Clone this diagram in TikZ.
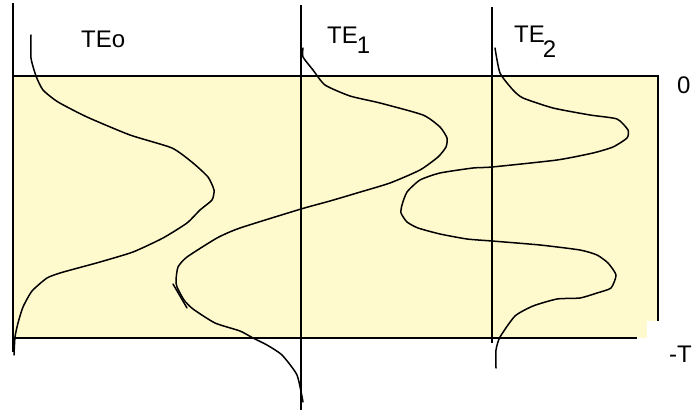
\documentclass[tikz,border=0pt]{standalone}
\usepackage{fontspec}
\setmainfont{Liberation Sans}
\definecolor{paleyellow}{RGB}{255,249,206}
\begin{document}
\begin{tikzpicture}[x=1pt,y=-1pt,
  curve/.style={line width=1.5pt,line join=round,line cap=round},
  axisline/.style={line width=1.2pt},
  label/.style={font=\fontsize{24}{28}\selectfont,inner sep=0pt,anchor=base west}]
\useasboundingbox (0,0) rectangle (693,412);
% background fill
\fill[paleyellow] (13,76) rectangle (658,338);
\fill[white] (647,321) rectangle (660,340);
% frame
\draw[line width=1.2pt] (13,76) -- (658,76);
\draw[line width=2pt] (658,75.4) -- (658,321);
\draw[line width=2.4pt] (13,338) -- (637,338);
\draw[line width=2pt] (13,3) -- (13,352);
% mode axes
\draw[axisline] (301,5) -- (301,410);
\draw[axisline] (492,7) -- (492,343);
% mode profiles
\draw[curve] plot[smooth,tension=0.35] coordinates {
 (31,35) (31,58) (36,76) (43,90) (58,102) (87,117) (130,135) (172,148)
 (193,163) (208,177) (214,190) (212,200) (200,210) (187,223) (163,238)
 (133,252) (100,262) (78,268) (60,273) (47,278) (32,291) (23,307)
 (18,323) (15,337) (14,355)};
\draw[curve] plot[smooth,tension=0.35] coordinates {
 (303,48) (303,57) (313,70) (325,85) (350,96) (380,103) (423,115)
 (440,127) (447,138) (446,147) (438,157) (420,170) (390,183) (357,193)
 (330,201) (301,209) (240,228) (217,238) (187,257) (178,267) (176,280)
 (177,287) (184,300) (193,309) (215,323) (240,331) (253,338) (267,345)
 (282,355) (297,375) (303,402)};
\draw[curve] (173,284) -- (187,308);
\draw[curve] plot[smooth,tension=0.35] coordinates {
 (495,48) (500,73) (513,90) (523,98) (553,108) (590,115) (617,119)
 (628,130) (627,138) (613,147) (593,153) (557,160) (492,167) (473,168)
 (440,173) (420,180) (407,192) (402,205) (401,213) (407,222) (418,228)
 (440,234) (467,239) (492,241) (540,245) (580,250) (597,255) (608,263)
 (616,275) (611,288) (597,293) (580,298) (557,299) (533,306) (515,316)
 (500,337) (496,350) (496,368)};
% labels
\node[label] (te0) at (81,48) {TEo};
\node[label] (te1) at (327,44) {TE\kern-1pt\raisebox{-10pt}{1}};
\node[label] (te2) at (514,43) {TE\kern-2pt\raisebox{-15pt}{2}};
\node[label] (zero) at (677,93) {0};
\node[label] (minusT) at (669,362) {-T};
\end{tikzpicture}
\end{document}
